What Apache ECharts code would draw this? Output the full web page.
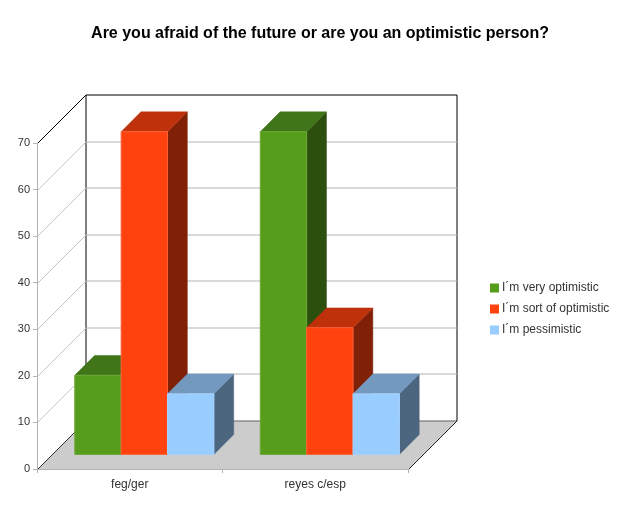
<!DOCTYPE html>
<html><head><meta charset="utf-8">
<style>html,body{margin:0;padding:0;background:#fff}#c{width:630px;height:530px}</style>
<script src="https://cdn.jsdelivr.net/npm/echarts@6/dist/echarts.min.js"></script>
</head><body><div id="c"></div>
<script>
const titleText = 'Are you afraid of the future or are you an optimistic person?';
const categories = ['feg/ger', 'reyes c/esp'];
const seriesNames = ['I´m very optimistic', 'I´m sort of optimistic', 'I´m pessimistic'];
const veryOptimistic = [17, 69.3];
const sortOfOptimistic = [69.3, 27.2];
const pessimistic = [13, 13];
const tickValues = [0, 10, 20, 30, 40, 50, 60, 70];

const seriesValues = [veryOptimistic, sortOfOptimistic, pessimistic];
const palette = [
  {front: '#579d1c', top: '#41751a', side: '#2c4f0e', edge: '#6aa836'},
  {front: '#ff420e', top: '#bf310a', side: '#802107', edge: '#ff6238'},
  {front: '#99ccff', top: '#7399bf', side: '#4c667f', edge: '#a6d2ff'}
];
const WALL = 48.5, BAR_INSET = 14.6, BAR_DEPTH = 19.8, BAR_SHARE = 0.25;

function poly(points, fill, stroke) {
  return {type: 'polygon', shape: {points}, style: {fill, stroke: stroke || fill, lineWidth: stroke ? 1 : 0.5}};
}
function line(x1, y1, x2, y2, stroke, lineWidth) {
  return {type: 'line', shape: {x1, y1, x2, y2}, style: {stroke, lineWidth: lineWidth || 1}};
}
function renderWall(params, api) {
  const cs = params.coordSys;
  const v = api.value(1);
  const y = Math.round(api.coord([0, v])[1]) + 0.5;
  const L = cs.x + 0.5, R = cs.x + cs.width + 0.5;
  const kids = [];
  if (v === tickValues[0]) {
    kids.push(poly([[L, y], [R, y], [R + WALL, y - WALL], [L + WALL, y - WALL]], '#cccccc'));
    kids.push(line(L + WALL, y - WALL, R + WALL, y - WALL, '#666666'));
    kids.push(line(L, y, L + WALL, y - WALL, '#333333'));
    kids.push(line(R, y, R + WALL, y - WALL, '#222222'));
    kids.push(line(L + WALL, y - WALL, L + WALL, y - WALL - cs.height, '#000000'));
    kids.push(line(R + WALL, y - WALL, R + WALL, y - WALL - cs.height, '#000000'));
  } else if (v === tickValues[tickValues.length - 1]) {
    kids.push(line(L + WALL, y - WALL, R + WALL, y - WALL, '#000000'));
    kids.push(line(L, y, L + WALL, y - WALL, '#000000'));
  } else {
    kids.push(line(L + WALL, y - WALL, R + WALL, y - WALL, '#b3b3b3'));
    kids.push(line(L, y, L + WALL, y - WALL, '#c4c4c4'));
  }
  return {type: 'group', children: kids, silent: true};
}
function makeBar(si) {
  return function (params, api) {
    const c = palette[si];
    const cat = api.value(0), v = api.value(1);
    const band = api.size([1, 0])[0];
    const w = band * BAR_SHARE;
    const centre = api.coord([cat, 0]);
    const x0 = centre[0] + BAR_INSET + (si - 1.5) * w;
    const x1 = x0 + w;
    const yb = centre[1] - BAR_INSET;
    const yt = api.coord([cat, v])[1] - BAR_INSET;
    const d = BAR_DEPTH;
    return {type: 'group', children: [
      poly([[x1, yb], [x1 + d, yb - d], [x1 + d, yt - d], [x1, yt]], c.side),
      poly([[x0, yt], [x1, yt], [x1 + d, yt - d], [x0 + d, yt - d]], c.top),
      poly([[x0, yb], [x1, yb], [x1, yt], [x0, yt]], c.front, c.edge)
    ]};
  };
}
const chart = echarts.init(document.getElementById('c'), null, {renderer: 'canvas'});
chart.setOption({
  animation: false,
  backgroundColor: '#ffffff',
  textStyle: {fontFamily: '"Liberation Sans", Arial, sans-serif'},
  title: {
    text: titleText, left: 315, top: 21, textAlign: 'center',
    textStyle: {fontFamily: '"Liberation Sans", Arial, sans-serif', fontSize: 16, fontWeight: 'bold', color: '#000'}
  },
  grid: {left: 37, right: 222, top: 143, bottom: 61, containLabel: false},
  legend: {
    left: 485, top: 276, orient: 'vertical', itemWidth: 9, itemHeight: 9, itemGap: 7,
    data: seriesNames.map((name, i) => ({name, icon: 'rect', itemStyle: {color: palette[i].front}})),
    textStyle: {fontSize: 12, color: '#333', padding: [0, 0, 0, -2], lineHeight: 14}
  },
  xAxis: {
    type: 'category', data: categories, z: 5,
    axisLine: {show: true, lineStyle: {color: '#b3b3b3'}},
    axisTick: {show: true, alignWithLabel: false, length: 4, lineStyle: {color: '#b3b3b3'}},
    axisLabel: {fontSize: 12, color: '#333', margin: 10},
    splitLine: {show: false}
  },
  yAxis: {
    type: 'value', min: 0, max: 70, interval: 10, z: 5,
    axisLine: {show: true, lineStyle: {color: '#b3b3b3'}},
    axisTick: {show: true, length: 4, lineStyle: {color: '#b3b3b3'}},
    axisLabel: {fontSize: 11, color: '#333', margin: 7},
    splitLine: {show: false}
  },
  series: [
    {type: 'custom', name: 'walls', silent: true, clip: false, z: 1,
     data: tickValues.map(t => [0, t]), renderItem: renderWall, encode: {x: 0, y: 1}}
  ].concat(seriesNames.map((name, si) => ({
    type: 'custom', name, clip: false, z: 2 + si,
    itemStyle: {color: palette[si].front},
    data: seriesValues[si].map((v, i) => [i, v]),
    renderItem: makeBar(si), encode: {x: 0, y: 1}
  })))
});
</script></body></html>
